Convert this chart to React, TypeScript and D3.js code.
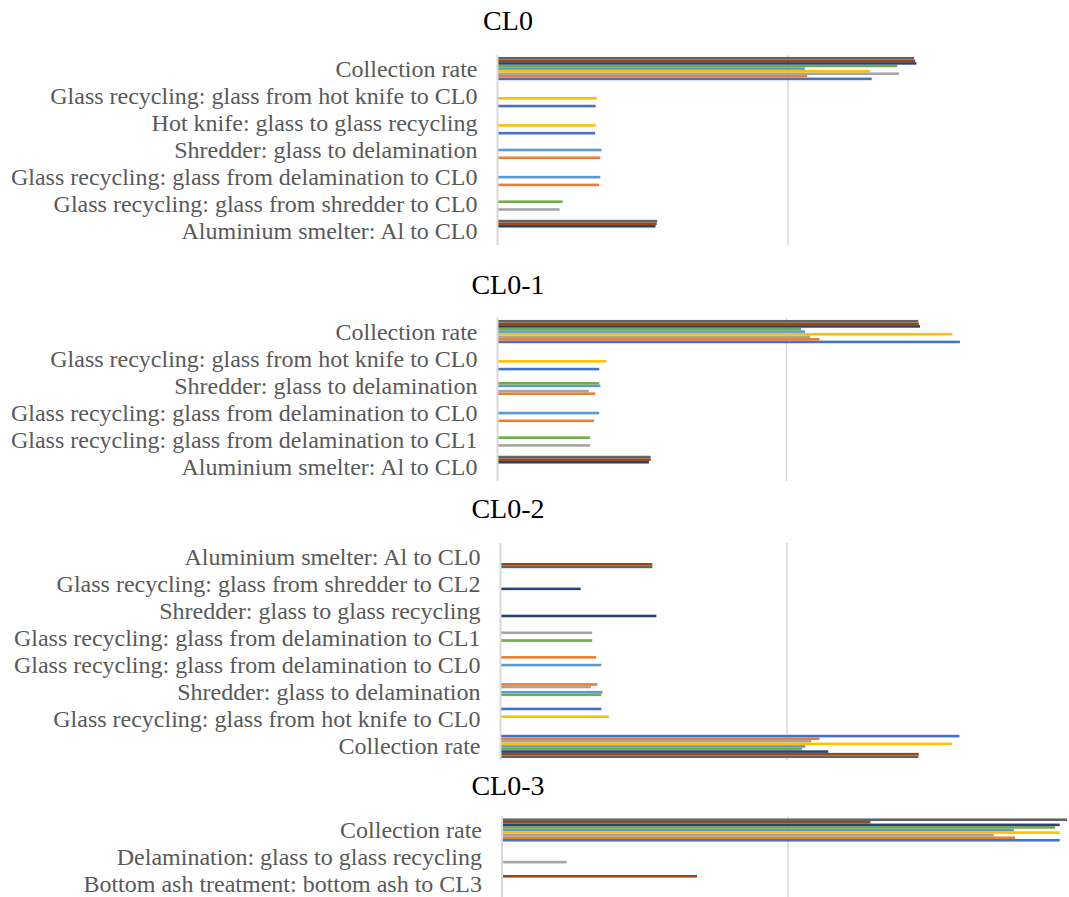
import * as d3 from 'd3'

// Office palette, series 1..9
const seriesColors = ['#4472C4', '#ED7D31', '#A5A5A5', '#FFC000', '#5B9BD5', '#70AD47', '#264478', '#9E480E', '#636363']
const seriesIds = [0, 1, 2, 3, 4, 5, 6, 7, 8]

// rows are listed top to bottom as shown; each row holds series 1..9
const cl0Categories = [
  'Collection rate',
  'Glass recycling: glass from hot knife to CL0',
  'Hot knife: glass to glass recycling',
  'Shredder: glass to delamination',
  'Glass recycling: glass from delamination to CL0',
  'Glass recycling: glass from shredder to CL0',
  'Aluminium smelter: Al to CL0',
]
const cl0Values = [
  [64.4, 53.3, 69.1, 64.1, 52.9, 68.8, 72.1, 71.9, 71.7],
  [16.9, 0, 0, 17.1, 0, 0, 0, 0, 0],
  [16.8, 0, 0, 16.9, 0, 0, 0, 0, 0],
  [0, 17.7, 0, 0, 17.9, 0, 0, 0, 0],
  [0, 17.5, 0, 0, 17.7, 0, 0, 0, 0],
  [0, 0, 10.7, 0, 0, 11.2, 0, 0, 0],
  [0, 0, 0, 0, 0, 0, 27.2, 27.4, 27.5],
]

const cl01Categories = [
  'Collection rate',
  'Glass recycling: glass from hot knife to CL0',
  'Shredder: glass to delamination',
  'Glass recycling: glass from delamination to CL0',
  'Glass recycling: glass from delamination to CL1',
  'Aluminium smelter: Al to CL0',
]
const cl01Values = [
  [80.0, 55.7, 54.1, 78.7, 53.2, 52.5, 73.1, 72.9, 72.8],
  [17.6, 0, 0, 18.8, 0, 0, 0, 0, 0],
  [0, 16.9, 15.8, 0, 17.8, 17.6, 0, 0, 0],
  [0, 16.7, 0, 0, 17.6, 0, 0, 0, 0],
  [0, 0, 16.0, 0, 0, 16.0, 0, 0, 0],
  [0, 0, 0, 0, 0, 0, 26.2, 26.5, 26.5],
]

const cl02Categories = [
  'Aluminium smelter: Al to CL0',
  'Glass recycling: glass from shredder to CL2',
  'Shredder: glass to glass recycling',
  'Glass recycling: glass from delamination to CL1',
  'Glass recycling: glass from delamination to CL0',
  'Shredder: glass to delamination',
  'Glass recycling: glass from hot knife to CL0',
  'Collection rate',
]
const cl02Values = [
  [0, 0, 0, 0, 0, 0, 0, 26.5, 26.5],
  [0, 0, 0, 0, 0, 0, 14.0, 0, 0],
  [0, 0, 0, 0, 0, 0, 27.2, 0, 0],
  [0, 0, 16.0, 0, 0, 16.0, 0, 0, 0],
  [0, 16.7, 0, 0, 17.6, 0, 0, 0, 0],
  [0, 16.9, 15.8, 0, 17.8, 17.6, 0, 0, 0],
  [17.6, 0, 0, 18.9, 0, 0, 0, 0, 0],
  [80.1, 55.7, 54.2, 78.8, 53.2, 52.6, 57.2, 73.0, 72.9],
]

const cl03Categories = [
  'Collection rate',
  'Delamination: glass to glass recycling',
  'Bottom ash treatment: bottom ash to CL3',
]
const cl03Values = [
  [97.5, 89.7, 86.0, 97.5, 89.5, 96.7, 97.5, 64.4, 98.8],
  [0, 0, 11.3, 0, 0, 0, 0, 0, 0],
  [0, 0, 0, 0, 0, 0, 0, 34.1, 0],
]

const panels = [
  { title: 'CL0', categories: cl0Categories, values: cl0Values, firstOnTop: false, titleY: 20, x0: 497.5, grid: 788, top: 55, bottom: 245 },
  { title: 'CL0-1', categories: cl01Categories, values: cl01Values, firstOnTop: false, titleY: 284, x0: 497.5, grid: 786.5, top: 318, bottom: 481 },
  { title: 'CL0-2', categories: cl02Categories, values: cl02Values, firstOnTop: true, titleY: 508, x0: 500.5, grid: 787, top: 543, bottom: 760 },
  { title: 'CL0-3', categories: cl03Categories, values: cl03Values, firstOnTop: false, titleY: 785, x0: 502, grid: 788, top: 816.5, bottom: 897.5 },
]

const Panel = ({ p }) => {
  const x = d3.scaleLinear().domain([0, 100]).range([p.x0, p.x0 + 2 * (p.grid - p.x0)])
  const y = d3.scaleBand().domain(p.categories).range([p.top, p.bottom])
  // 9 bars + 150% gap per category
  const inner = d3.scaleBand()
    .domain(p.firstOnTop ? seriesIds : [...seriesIds].reverse())
    .range([0, y.bandwidth()])
    .paddingOuter(0.75)

  return (
    <g>
      <text x={508} y={p.titleY} textAnchor="middle" dominantBaseline="central"
        fontFamily="'Liberation Serif', 'Times New Roman', serif" fontSize={28} fill="#000">
        {p.title}
      </text>
      <line x1={x(50)} x2={x(50)} y1={p.top} y2={p.bottom} stroke="#d9d9d9" strokeWidth={1.5} />
      {p.categories.map((c, i) => (
        <g key={c}>
          {p.values[i].map((v, s) => v > 0 && (
            <rect key={s} x={x(0)} y={y(c) + inner(s)} width={x(v) - x(0)} height={inner.bandwidth()}
              fill={seriesColors[s]} />
          ))}
          <text x={p.x0 - 20} y={y(c) + y.bandwidth() / 2} textAnchor="end" dominantBaseline="central"
            fontFamily="'Liberation Serif', 'Times New Roman', serif" fontSize={24} fill="#595959">
            {c}
          </text>
        </g>
      ))}
      <line x1={x(0)} x2={x(0)} y1={p.top} y2={p.bottom} stroke="#d9d9d9" strokeWidth={2} />
    </g>
  )
}

export default function App() {
  return (
    <svg width={1069} height={897} style={{ position: 'absolute', left: 0, top: 0, background: '#fff' }}>
      <rect width={1069} height={897} fill="#fff" />
      {panels.map((p) => <Panel key={p.title} p={p} />)}
    </svg>
  )
}
